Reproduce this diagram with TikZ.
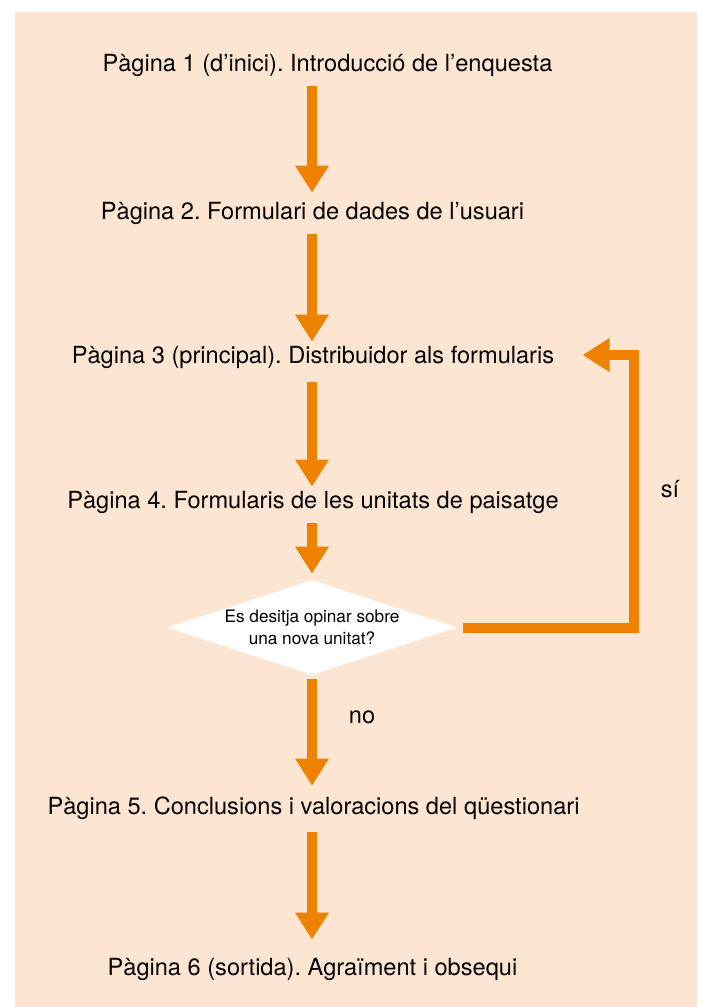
\documentclass[tikz,border=0pt]{standalone}
\usepackage{fontspec}
\setmainfont{TeX Gyre Heros}
\frenchspacing
\usetikzlibrary{arrows.meta,shapes.geometric}
\definecolor{fons}{RGB}{253,230,209}
\definecolor{taronja}{RGB}{239,129,0}
\tikzset{
  pagina/.style={inner sep=0pt,text height=8pt,text depth=0pt,font=\fontsize{11.8}{13}\selectfont},
  fletxa/.style={draw=taronja,line width=5.4pt,-{Triangle[length=13.5pt,width=16pt]}},
  pregunta/.style={diamond,fill=white,inner sep=0pt,shape aspect=3.05,align=center,
    minimum width=145pt,minimum height=47.5pt,font=\fontsize{8.6}{11}\selectfont}
}
\begin{document}
\begin{tikzpicture}[x=0.5pt,y=-0.5pt]
      \useasboundingbox (0,0) rectangle (702,1007);
      \fill[fons] (15,12) rectangle (697,1007);
      \node[pagina] (p1) at (327.5,63.5) {Pàgina 1 (d’inici). Introducció de l’enquesta};
      \node[pagina] (p2) at (312.5,211) {Pàgina 2. Formulari de dades de l’usuari};
      \node[pagina] (p3) at (313,355) {Pàgina 3 (principal). Distribuidor als formularis};
      \node[pagina] (p4) at (313,500) {Pàgina 4. Formularis de les unitats de paisatge};
      \node[pregunta] (d) at (312,627.5) {Es desitja opinar sobre\\una nova unitat?};
      \node[pagina] (p5) at (313.5,806) {Pàgina 5. Conclusions i valoracions del qüestionari};
      \node[pagina] (p6) at (312.5,967) {Pàgina 6 (sortida). Agraïment i obsequi};
      \node[pagina,anchor=base] (si) at (670,497) {sí};
      \node[pagina,anchor=base] (no) at (362,723) {no};
      \coordinate (volta) at (634,0);
      \draw[fletxa,shorten <=7pt,shorten >=5pt] (p1.south -| d.north) -- (p2.north -| d.north);
      \draw[fletxa,shorten <=7.5pt,shorten >=2.5pt] (p2.south -| d.north) -- (p3.north -| d.north);
      \draw[fletxa,shorten <=9.5pt,shorten >=2.5pt] (p3.south -| d.north) -- (p4.north -| d.north);
      \draw[fletxa,shorten <=7.5pt,shorten >=3pt] (p4.south -| d.north) -- (d.north);
      \draw[fletxa,shorten <=2pt,shorten >=6pt] (d.south) -- (p5.north -| d.south);
      \draw[fletxa,shorten <=9pt,shorten >=9.5pt] (p5.south -| d.south) -- (p6.north -| d.south);
      \draw[fletxa,line width=5pt,shorten <=3pt,shorten >=14pt] (d.east) -| (p3.east -| volta) -- (p3.east);
    \end{tikzpicture}
\end{document}
